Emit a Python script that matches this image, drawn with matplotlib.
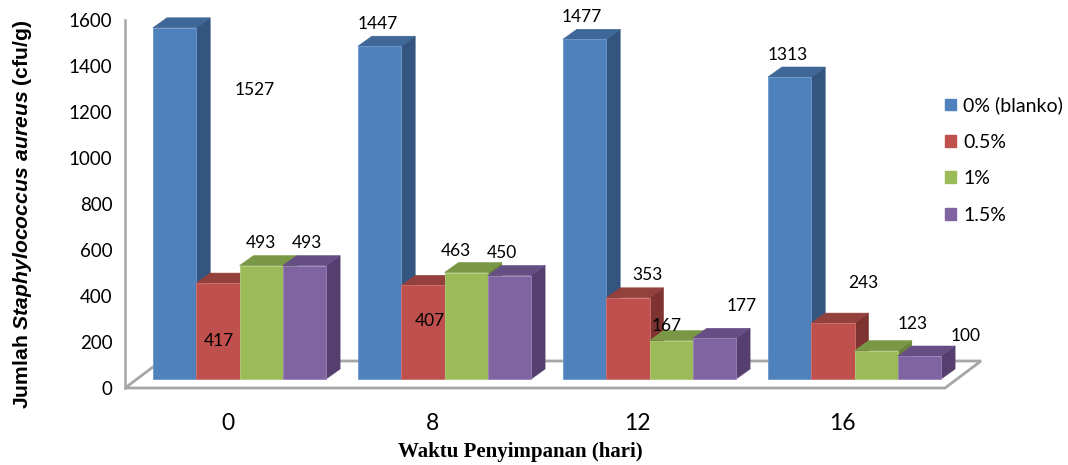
import matplotlib.pyplot as plt
from matplotlib.patches import Polygon, Patch

plt.rcParams['mathtext.fontset'] = 'custom'
plt.rcParams['mathtext.bfit'] = 'Liberation Sans:bold:italic'
plt.rcParams['mathtext.rm'] = 'Liberation Sans:bold'

days = ['0', '8', '12', '16']
series = ['0% (blanko)', '0.5%', '1%', '1.5%']
blanko = [1527, 1447, 1477, 1313]
c05 = [417, 407, 353, 243]
c1 = [493, 463, 167, 123]
c15 = [493, 450, 177, 100]
values = [blanko, c05, c1, c15]

# front / top / side shades (excel 3d look)
front_cols = ['#4F81BD', '#C0504D', '#9BBB59', '#8064A2']
top_cols = ['#3F6797', '#94403D', '#7A9745', '#654E84']
side_cols = ['#33557F', '#7F3331', '#6A853A', '#553F6E']
edge_cols = ['#6E98CB', '#CF726F', '#B0CB7A', '#9A83B8']

# label offsets in pixels from front-top centre of each bar (excel put them odd)
lab_off = [
    [(80, -62), (-2, 22), (-3, 22), (-2, 22)],
    [(1, -58), (7, -36), (20, 23), (30, 40)],
    [(0, 23), (-10, 22), (-4, 15), (37, 27)],
    [(3, 23), (-8, 22), (27, 32), (46, 20)],
]

W, H = 1068, 465
fig = plt.figure(figsize=(W / 100, H / 100), dpi=100)
ax = fig.add_axes([125 / W, (H - 388) / H, 820 / W, 368 / H])
ax.set_xlim(-0.5, 3.5)
ax.set_ylim(0, 1600)

px_x = 820 / 4.0      # pixels per category
px_y = 368 / 1600.0   # pixels per unit

# depth vectors in data units
floor_dx, floor_dy = 36 / px_x, 27 / px_y
plane_dx, plane_dy = 12 / px_x, 9 / px_y
bar_dx, bar_dy = 14 / px_x, 10 / px_y
bw = 43.3 / px_x

# floor
floor = Polygon([(-0.5, 0), (3.5, 0), (3.5 + floor_dx, floor_dy),
                 (-0.5 + floor_dx, floor_dy)], closed=True,
                facecolor='white', edgecolor='#A6A6A6', lw=2, clip_on=False, zorder=1)
ax.add_patch(floor)
ax.plot([-0.5, -0.5], [0, 1600], color='#A6A6A6', lw=1.8, clip_on=False, zorder=1)

for g in range(len(days)):
    for i, vals in enumerate(values):
        v = vals[g]
        xc = g + (i - 1.5) * bw + plane_dx
        x0, x1 = xc - bw / 2, xc + bw / 2
        y0, y1 = plane_dy, plane_dy + v
        front = Polygon([(x0, y0), (x1, y0), (x1, y1), (x0, y1)],
                        facecolor=front_cols[i], edgecolor=edge_cols[i], lw=0.6,
                        clip_on=False, zorder=2)
        side = Polygon([(x1, y0), (x1 + bar_dx, y0 + bar_dy), (x1 + bar_dx, y1 + bar_dy), (x1, y1)],
                       facecolor=side_cols[i], edgecolor=side_cols[i], lw=0.4,
                       clip_on=False, zorder=2)
        top = Polygon([(x0, y1), (x1, y1), (x1 + bar_dx, y1 + bar_dy), (x0 + bar_dx, y1 + bar_dy)],
                      facecolor=top_cols[i], edgecolor=top_cols[i], lw=0.4,
                      clip_on=False, zorder=2)
        ax.add_patch(side)
        ax.add_patch(top)
        ax.add_patch(front)
        ox, oy = lab_off[i][g]
        ax.annotate(str(v), xy=(xc, y1), xytext=(ox, oy), textcoords='offset pixels',
                    ha='center', va='center', fontsize=12.5, family='Lato',
                    color='black', zorder=5, annotation_clip=False)

for s in ax.spines.values():
    s.set_visible(False)
ax.set_yticks(range(0, 1601, 200))
ax.set_yticklabels([str(t) for t in range(0, 1601, 200)], family='Lato', fontsize=13.5)
ax.set_xticks(range(len(days)))
ax.set_xticklabels(days, family='Lato', fontsize=16.5)
ax.tick_params(axis='y', length=0, pad=9)
ax.tick_params(axis='x', length=0, pad=18)

fig.text(23 / W, 1 - 214 / H, r'Jumlah $\mathbfit{Staphylococcus\ aureus}$ (cfu/g)',
         rotation=90, ha='center', va='center', fontsize=15.2,
         family='Liberation Sans', weight='bold')
fig.text(520 / W, 1 - 452 / H, 'Waktu Penyimpanan (hari)', ha='center', va='center',
         fontsize=15, family='Liberation Serif', weight='bold')

handles = [Patch(facecolor=c, edgecolor=c) for c in front_cols]
fig.legend(handles, series, loc='center left', bbox_to_anchor=(945 / W, 1 - 160 / H),
           frameon=False, prop={'family': 'Lato', 'size': 14},
           handlelength=0.55, handleheight=0.55, handletextpad=0.4, labelspacing=1.0,
           borderaxespad=0, borderpad=0)

fig.savefig('out.png', dpi=100)
